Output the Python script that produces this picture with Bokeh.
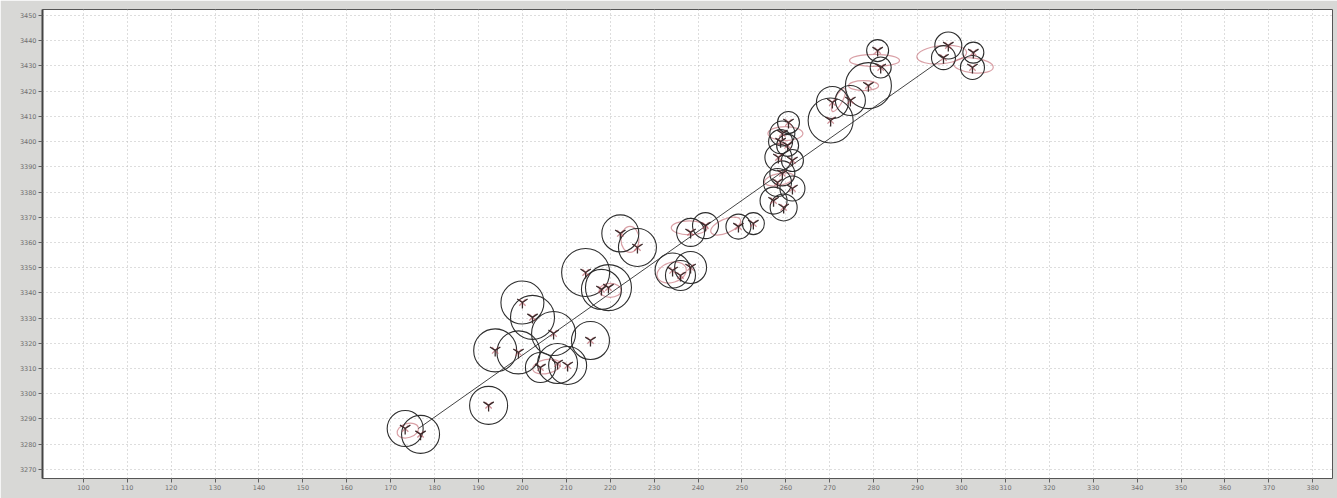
from bokeh.plotting import figure
from bokeh.models import FixedTicker, ColumnDataSource
from bokeh.embed import file_html
from bokeh.resources import INLINE

# ---- data ----
pt_x = [173.3, 176.8, 192.3, 200.0, 202.3, 207.1, 193.8, 199.1, 215.5, 208.0,
        210.3, 204.1, 214.4, 219.6, 218.0, 222.3, 226.2, 234.2, 238.3, 236.0,
        238.3, 241.7, 249.2, 252.6, 260.6, 259.2, 258.8, 260.4, 258.3, 261.5,
        259.2, 258.1, 261.5, 257.2, 259.5, 270.2, 270.6, 274.7, 278.8, 280.9,
        281.6, 297.0, 295.9, 302.7, 302.5]
pt_y = [3286.2, 3283.9, 3295.4, 3336.2, 3330.3, 3323.9, 3317.2, 3316.4, 3321.1, 3312.0,
        3311.2, 3310.4, 3348.1, 3342.1, 3341.4, 3363.6, 3358.0, 3348.9, 3350.1, 3346.9,
        3364.0, 3366.7, 3366.3, 3367.5, 3407.6, 3403.2, 3400.0, 3398.5, 3393.7, 3392.5,
        3387.4, 3383.8, 3381.4, 3376.6, 3373.9, 3408.4, 3415.5, 3416.3, 3422.2, 3436.1,
        3429.4, 3438.1, 3433.3, 3435.3, 3429.4]
# error circle diameter of each point (pixels of the original chart)
pt_err = [36, 38, 38, 43, 44, 44, 43, 43, 38, 40,
          38, 30, 48, 46, 40, 37, 38, 35, 32, 30,
          28, 26, 25, 22, 22, 25, 24, 22, 27, 22,
          25, 28, 25, 27, 27, 45, 32, 30, 46, 22,
          21, 27, 24, 21, 24]

# secondary (red) error ellipses
red_x = [280.2, 277.7, 295.5, 302.7, 246.3, 238.0, 234.0, 224.5, 259.9, 272.0, 173.9, 205.5, 220.0, 258.5]
red_y = [3432.2, 3422.2, 3434.5, 3430.2, 3366.5, 3365.8, 3348.1, 3361.2, 3403.2, 3416.5, 3285.4, 3310.8, 3341.0, 3385.0]
red_w = [50, 30, 50, 40, 32, 36, 30, 18, 35, 8, 22, 28, 22, 30]
red_h = [12, 10, 18, 15, 14, 14, 20, 26, 14, 26, 14, 14, 14, 12]
red_a = [0.0, 0.0, 0.1, -0.1, 0.4, 0.0, 0.3, 0.0, 0.0, -0.5, 0.3, 0.2, 0.0, 0.2]

# regression line
line_x = [176.3, 295.2]
line_y = [3286.2, 3432.2]

x_ticks = list(range(100, 390, 10))
y_ticks = list(range(3270, 3460, 10))

p = figure(width=1337, height=498, output_backend="svg", toolbar_location=None,
           x_range=(90.7, 384.5), y_range=(3266.4, 3452.4),
           min_border_left=42, min_border_right=5, min_border_top=9, min_border_bottom=20)

p.background_fill_color = "white"
p.border_fill_color = "#d8d8d6"
p.outline_line_color = "#555555"
p.outline_line_width = 1

for ax in (p.xaxis[0], p.yaxis[0]):
    ax.major_label_text_font = "DejaVu Sans"
    ax.major_label_text_font_size = "6.5px"
    ax.major_label_text_color = "#707070"
    ax.minor_tick_line_color = None
    ax.major_tick_line_color = "#606060"
    ax.major_tick_in = 0
    ax.major_tick_out = 4
    ax.major_label_standoff = 2

p.xaxis.ticker = FixedTicker(ticks=x_ticks)
p.yaxis.ticker = FixedTicker(ticks=y_ticks)
p.xaxis.axis_line_color = None
p.yaxis.axis_line_color = "#444444"
p.yaxis.axis_line_width = 2

p.grid.grid_line_color = "#bbbbbb"
p.grid.grid_line_dash = "1 3"
p.grid.grid_line_width = 1
p.xgrid.ticker = FixedTicker(ticks=x_ticks)
p.ygrid.ticker = FixedTicker(ticks=y_ticks)

red_src = ColumnDataSource(dict(x=red_x, y=red_y, w=red_w, h=red_h, a=red_a))
p.ellipse(x="x", y="y", width="w", height="h", angle="a", source=red_src,
          width_units="screen", height_units="screen",
          fill_color=None, line_color="#c0606a", line_alpha=0.6, line_width=1.2)

p.line(line_x, line_y, line_color="#444444", line_width=1)

src = ColumnDataSource(dict(x=pt_x, y=pt_y, s=pt_err))
p.scatter(x="x", y="y", size="s", source=src, marker="circle",
          fill_color=None, line_color="#2e2e2e", line_width=1.1)
p.scatter(x="x", y="y", source=src, marker="x", size=9,
          line_color="#b04a55", line_alpha=0.6, line_width=1.3)
p.scatter(x="x", y="y", source=src, marker="y", size=12,
          line_color="#3a2a2a", line_width=1.3)

open("out.html", "w").write(file_html(p, INLINE))
